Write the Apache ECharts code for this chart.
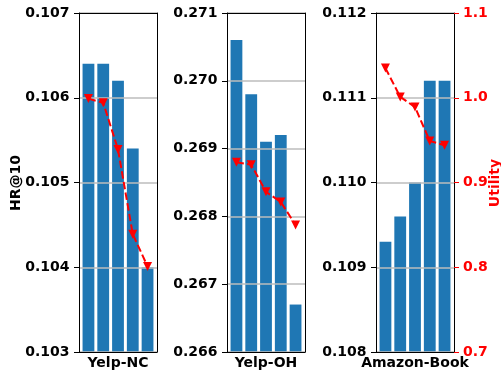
<!DOCTYPE html>
<html><head><meta charset="utf-8">
<script src="https://cdn.jsdelivr.net/npm/echarts@6/dist/echarts.min.js"></script>
<style>html,body{margin:0;padding:0;background:#fff}#c{width:501px;height:375px}</style>
</head><body><div id="c"></div>
<script>
const datasets = ['Yelp-NC', 'Yelp-OH', 'Amazon-Book'];
const hrYelpNC = [0.1064, 0.1064, 0.1062, 0.1054, 0.1040];
const utilYelpNC = [0.999, 0.994, 0.939, 0.839, 0.801];
const hrYelpOH = [0.2706, 0.2698, 0.2691, 0.2692, 0.2667];
const utilYelpOH = [0.924, 0.921, 0.889, 0.877, 0.850];
const hrAmazon = [0.1093, 0.1096, 0.1100, 0.1112, 0.1112];
const utilAmazon = [1.035, 1.001, 0.989, 0.949, 0.944];
const hrRanges = [[0.103, 0.107], [0.266, 0.271], [0.108, 0.112]];
const utilRange = [0.7, 1.1];

const hrAll = [hrYelpNC, hrYelpOH, hrAmazon];
const utilAll = [utilYelpNC, utilYelpOH, utilAmazon];
const lefts = [79, 227, 376];
const FONT = 'DejaVu Sans';

const grid = [], xAxis = [], yAxis = [], series = [];
datasets.forEach((name, i) => {
  grid.push({left: lefts[i], top: 13, width: 78, height: 340, show: false});
  xAxis.push({type: 'value', gridIndex: i, min: -0.64, max: 4.64, z: 3,
    name: name, nameLocation: 'middle', nameGap: 4,
    nameTextStyle: {fontFamily: FONT, fontWeight: 'bold', fontSize: 14, color: '#000', verticalAlign: 'top'},
    axisLine: {show: true, onZero: false, lineStyle: {color: '#000', width: 1}},
    axisTick: {show: false}, axisLabel: {show: false}, splitLine: {show: false}});
  xAxis.push({type: 'value', gridIndex: i, position: 'top', min: -0.64, max: 4.64, z: 3,
    axisLine: {show: true, onZero: false, lineStyle: {color: '#000', width: 1}},
    axisTick: {show: false}, axisLabel: {show: false}, splitLine: {show: false}});
  yAxis.push({type: 'value', gridIndex: i, min: hrRanges[i][0], max: hrRanges[i][1], interval: 0.001, z: 3,
    axisLine: {show: true, onZero: false, lineStyle: {color: '#000', width: 1}},
    axisTick: {show: true, length: 5, lineStyle: {color: '#000', width: 1}},
    axisLabel: {margin: 9.5, formatter: v => v.toFixed(3), fontFamily: FONT, fontWeight: 'bold', fontSize: 14, color: '#000'},
    splitLine: {show: true, lineStyle: {color: '#bdbdbd', width: 1.5}}});
  yAxis.push({type: 'value', gridIndex: i, position: 'right', min: utilRange[0], max: utilRange[1], interval: 0.1, z: 3,
    axisLine: {show: true, onZero: false, lineStyle: {color: '#000', width: 1}},
    axisTick: {show: i === 2, length: 5, lineStyle: {color: 'red', width: 1}},
    axisLabel: {show: i === 2, margin: 9, formatter: v => v.toFixed(1), fontFamily: FONT, fontWeight: 'bold', fontSize: 14, color: 'red'},
    splitLine: {show: false}});
  series.push({type: 'bar', xAxisIndex: 2 * i, yAxisIndex: 2 * i, barWidth: 11.8, z: 2,
    itemStyle: {color: '#1f77b4'}, data: hrAll[i].map((v, k) => [k, v]), silent: true});
  series.push({type: 'line', xAxisIndex: 2 * i, yAxisIndex: 2 * i + 1, z: 5,
    symbol: 'triangle', symbolRotate: 180, symbolSize: 9, showSymbol: true,
    lineStyle: {color: 'red', width: 2, type: [7.5, 3.3]}, itemStyle: {color: 'red'},
    data: utilAll[i].map((v, k) => [k, v]), animation: false});
});

const chart = echarts.init(document.getElementById('c'), null, {renderer: 'canvas'});
chart.setOption({
  animation: false,
  grid, xAxis, yAxis, series,
  graphic: [
    {type: 'text', x: 16, y: 183, rotation: Math.PI / 2,
      style: {text: 'HR@10', fontFamily: FONT, fontWeight: 'bold', fontSize: 14, fill: '#000', align: 'center', verticalAlign: 'middle'}},
    {type: 'text', x: 495, y: 183, rotation: Math.PI / 2,
      style: {text: 'Utility', fontFamily: FONT, fontWeight: 'bold', fontSize: 14, fill: 'red', align: 'center', verticalAlign: 'middle'}}
  ]
});
</script></body></html>
